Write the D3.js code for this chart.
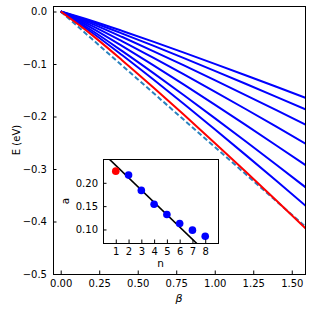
<!DOCTYPE html>
<html>
<head>
<meta charset="utf-8">
<script src="https://cdn.jsdelivr.net/npm/d3@7"></script>
<style>
  body { margin: 0; background: #fff; }
  text { font-family: "DejaVu Sans", sans-serif; }
</style>
</head>
<body>
<div id="chart"></div>
<script>

let betas = [0, 0.2, 0.4, 0.6, 0.8, 1.0, 1.2, 1.4, 1.6]

// E(beta) for n = 2..8 (blue), n = 1 (red) and the dashed reference
let blueCurves = [
  [0, -0.0175, -0.0370, -0.0574, -0.0783, -0.0997, -0.1214, -0.1433, -0.1656],
  [0, -0.0199, -0.0420, -0.0651, -0.0888, -0.1130, -0.1376, -0.1626, -0.1878],
  [0, -0.0230, -0.0486, -0.0753, -0.1027, -0.1307, -0.1591, -0.1879, -0.2170],
  [0, -0.0268, -0.0567, -0.0879, -0.1199, -0.1525, -0.1857, -0.2194, -0.2534],
  [0, -0.0312, -0.0660, -0.1022, -0.1394, -0.1774, -0.2161, -0.2552, -0.2948],
  [0, -0.0357, -0.0755, -0.1169, -0.1595, -0.2030, -0.2472, -0.2919, -0.3372],
  [0, -0.0394, -0.0834, -0.1292, -0.1762, -0.2242, -0.2731, -0.3225, -0.3725]
]
let redCurve = [0, -0.0440, -0.0931, -0.1442, -0.1967, -0.2504, -0.3049, -0.3601, -0.4159]
let dashedCurve = [0, -0.0516, -0.1032, -0.1548, -0.2064, -0.2580, -0.3096, -0.3612, -0.4128]

// inset: a vs n
let nValues = [1, 2, 3, 4, 5, 6, 7, 8]
let aValues = [0.225, 0.2165, 0.1837, 0.154, 0.132, 0.1128, 0.0985, 0.0856]
let fitIntercept = 0.2637
let fitSlope = -0.0264

let xTicks = [0, 0.25, 0.5, 0.75, 1.0, 1.25, 1.5]
let yTicks = [-0.5, -0.4, -0.3, -0.2, -0.1, 0.0]
let insetXTicks = [1, 2, 3, 4, 5, 6, 7, 8]
let insetYTicks = [0.10, 0.15, 0.20]

let width = 312;
let height = 312;

let plot = {left: 53, top: 6, right: 305, bottom: 274}
let inset = {left: 103, top: 159, right: 218, bottom: 243}

let fmtMinus = function(s){ return s.replace("-", "\u2212") }

let svg = d3.select("#chart").append("svg")
  .attr("width", width)
  .attr("height", height)
  .style("display", "block")

let x = d3.scaleLinear()
  .domain([-0.05, 1.586])
  .range([plot.left, plot.right])

let y = d3.scaleLinear()
  .domain([-0.5, 0.0105])
  .range([plot.bottom, plot.top])

svg.append("clipPath").attr("id", "mainClip")
  .append("rect")
  .attr("x", plot.left).attr("y", plot.top)
  .attr("width", plot.right - plot.left).attr("height", plot.bottom - plot.top)

let line = d3.line()
  .x(function(d, i){ return x(betas[i]) })
  .y(function(d){ return y(d) })
  .curve(d3.curveMonotoneX)

let curves = svg.append("g").attr("clip-path", "url(#mainClip)")

curves.selectAll(".blue")
  .data(blueCurves)
  .join("path")
  .attr("class", "blue")
  .attr("d", line)
  .style("fill", "none")
  .style("stroke", "#0000ff")
  .style("stroke-width", 2)

curves.append("path")
  .attr("d", line(dashedCurve))
  .style("fill", "none")
  .style("stroke", "#2b83bf")
  .style("stroke-width", 2)
  .style("stroke-dasharray", "5,2.6")

curves.append("path")
  .attr("d", line(redCurve))
  .style("fill", "none")
  .style("stroke", "#ff0000")
  .style("stroke-width", 2)

// main axes, ticks pointing inward
svg.append("g")
  .attr("transform", `translate(0,${plot.bottom})`)
  .call(d3.axisBottom(x).tickValues(xTicks).tickFormat(d3.format(".2f"))
    .tickSizeInner(-3.5).tickSizeOuter(0).tickPadding(6))
  .call(function(g){ g.select(".domain").remove() })

svg.append("g")
  .attr("transform", `translate(${plot.left},0)`)
  .call(d3.axisLeft(y).tickValues(yTicks).tickFormat(function(d){ return fmtMinus(d3.format(".1f")(d)) })
    .tickSizeInner(-3.5).tickSizeOuter(0).tickPadding(6))
  .call(function(g){ g.select(".domain").remove() })

svg.selectAll(".tick text").style("font-size", "10px").style("font-family", "DejaVu Sans")

svg.append("rect")
  .attr("x", plot.left).attr("y", plot.top)
  .attr("width", plot.right - plot.left).attr("height", plot.bottom - plot.top)
  .style("fill", "none")
  .style("stroke", "#000")
  .style("stroke-width", 1)
  .style("shape-rendering", "crispEdges")

svg.append("text")
  .attr("transform", `translate(19.5,${(plot.top + plot.bottom) / 2}) rotate(-90)`)
  .attr("text-anchor", "middle")
  .style("font-size", "10px")
  .text("E (eV)")

svg.append("text")
  .attr("x", (plot.left + plot.right) / 2)
  .attr("y", 302)
  .attr("text-anchor", "middle")
  .style("font-size", "11px")
  .style("font-style", "italic")
  .text("\u03b2")

///inset
let ix = d3.scaleLinear()
  .domain([0, 9])
  .range([inset.left, inset.right])

let iy = d3.scaleLinear()
  .domain([0.071, 0.251])
  .range([inset.bottom, inset.top])

let ig = svg.append("g")

ig.append("rect")
  .attr("x", inset.left).attr("y", inset.top)
  .attr("width", inset.right - inset.left).attr("height", inset.bottom - inset.top)
  .style("fill", "#fff")

ig.append("clipPath").attr("id", "insetClip")
  .append("rect")
  .attr("x", inset.left).attr("y", inset.top)
  .attr("width", inset.right - inset.left).attr("height", inset.bottom - inset.top)

// linear fit
ig.append("line")
  .attr("clip-path", "url(#insetClip)")
  .attr("x1", ix(0)).attr("y1", iy(fitIntercept))
  .attr("x2", ix(9)).attr("y2", iy(fitIntercept + fitSlope * 9))
  .style("stroke", "#000")
  .style("stroke-width", 1.6)

ig.selectAll(".dot")
  .data(nValues)
  .join("circle")
  .attr("class", "dot")
  .attr("cx", function(d){ return ix(d) })
  .attr("cy", function(d, i){ return iy(aValues[i]) })
  .attr("r", 3.8)
  .style("fill", function(d, i){ return i == 0 ? "#ff0000" : "#0000ff" })

ig.append("g")
  .attr("transform", `translate(0,${inset.bottom})`)
  .call(d3.axisBottom(ix).tickValues(insetXTicks).tickFormat(d3.format("d"))
    .tickSizeInner(-3.5).tickSizeOuter(0).tickPadding(5))
  .call(function(g){ g.select(".domain").remove() })

ig.append("g")
  .attr("transform", `translate(${inset.left},0)`)
  .call(d3.axisLeft(iy).tickValues(insetYTicks).tickFormat(d3.format(".2f"))
    .tickSizeInner(-3.5).tickSizeOuter(0).tickPadding(5))
  .call(function(g){ g.select(".domain").remove() })

ig.selectAll(".tick text").style("font-size", "10px").style("font-family", "DejaVu Sans")

ig.append("rect")
  .attr("x", inset.left).attr("y", inset.top)
  .attr("width", inset.right - inset.left).attr("height", inset.bottom - inset.top)
  .style("fill", "none")
  .style("stroke", "#000")
  .style("stroke-width", 1)
  .style("shape-rendering", "crispEdges")

ig.append("text")
  .attr("transform", `translate(68.5,${(inset.top + inset.bottom) / 2}) rotate(-90)`)
  .attr("text-anchor", "middle")
  .style("font-size", "10.5px")
  .text("a")

ig.append("text")
  .attr("x", (inset.left + inset.right) / 2)
  .attr("y", 266.5)
  .attr("text-anchor", "middle")
  .style("font-size", "10.5px")
  .text("n")

</script>
</body>
</html>
